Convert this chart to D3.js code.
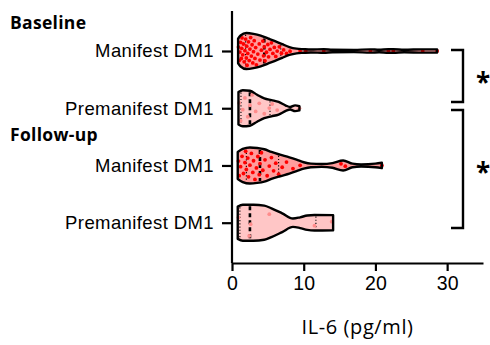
<!DOCTYPE html>
<html>
<head>
<meta charset="utf-8">
<script src="https://cdn.jsdelivr.net/npm/d3@7"></script>
<style>
  body { margin: 0; background: #fff; }
  svg { display: block; font-family: "Open Sans", "Noto Sans", sans-serif; }
</style>
</head>
<body>
<div id="chart"></div>
<script>
// groups from top to bottom
const groupKeys = ['mBase', 'pBase', 'mFollow', 'pFollow'];
const groupLabels = ['Manifest DM1', 'Premanifest DM1', 'Manifest DM1', 'Premanifest DM1'];
const sectionLabels = ['Baseline', 'Follow-up'];
const xTicks = [0, 10, 20, 30];

// IL-6 values (pg/ml)
const mBaseValues = [0.9, 1.0, 1.1, 1.2, 1.3, 1.35, 1.4, 1.5, 1.6, 1.7, 1.8, 1.9, 2.0, 2.05, 2.1, 2.2, 2.3, 2.4,
  2.5, 2.6, 2.7, 2.8, 2.9, 3.0, 3.1, 3.2, 3.3, 3.4, 3.6, 3.8, 3.9, 4.1, 4.3, 4.4, 4.5, 4.6, 4.8, 5.0,
  5.1, 5.3, 5.5, 5.7, 5.9, 6.1, 6.3, 6.6, 6.9, 7.2, 7.6, 8.1, 9.5, 10.3, 12.8, 19.3, 21.8, 22.5, 26.6, 28.6];
const pBaseValues = [1.0, 1.2, 1.5, 1.8, 2.2, 2.5, 2.8, 3.3, 3.8, 4.5, 5.2, 5.6, 6.3, 9.4];
const mFollowValues = [0.9, 1.0, 1.2, 1.4, 1.6, 1.8, 1.9, 2.0, 2.2, 2.3, 2.5, 2.7, 2.9, 3.0, 3.2, 3.4, 3.6,
  3.8, 3.9, 4.1, 4.3, 4.6, 4.9, 5.2, 5.5, 5.8, 6.1, 6.5, 7.0, 7.6, 8.5, 9.5, 15.2, 15.8, 20.9];
const pFollowValues = [0.9, 2.4, 2.6, 5.2, 11.5, 13.9];

// violin outlines: [value, relative half-width]
const mBaseShape = [[0.85, 0.68], [1.2, 0.86], [2, 1.0], [3, 0.95], [4, 0.85], [5, 0.7], [6, 0.55], [7, 0.38],
  [8, 0.22], [9, 0.13], [10, 0.1], [11, 0.08], [12.8, 0.1], [14, 0.07], [17, 0.06], [19.3, 0.09], [20.5, 0.07],
  [21.8, 0.1], [22.5, 0.1], [24, 0.07], [26.6, 0.09], [28.6, 0.09]];
const pBaseShape = [[0.9, 0.9], [1.5, 1.0], [2.5, 0.97], [3.5, 0.75], [4.5, 0.55], [5.5, 0.45], [6.5, 0.35],
  [7.5, 0.15], [8.1, 0.07], [8.8, 0.16], [9.4, 0.12]];
const mFollowShape = [[0.8, 0.75], [1.5, 0.92], [2.5, 1.0], [3.5, 0.97], [4.5, 0.9], [5.5, 0.75], [6.7, 0.6],
  [8, 0.45], [9, 0.32], [10, 0.18], [11, 0.1], [12.5, 0.08], [14, 0.13], [15.5, 0.28], [16.8, 0.1], [18, 0.06],
  [20, 0.1], [20.9, 0.15]];
const pFollowShape = [[0.8, 0.9], [1.5, 1.0], [3, 1.0], [4.5, 0.95], [5.5, 0.8], [7, 0.52], [8.5, 0.23],
  [9.5, 0.3], [10.5, 0.4], [11.5, 0.43], [14.1, 0.42]];

// [Q1, median, Q3]
const mBaseQuart = [1.9, 4.5, 6.8];
const pBaseQuart = [1.25, 2.5, 5.3];
const mFollowQuart = [2.0, 3.9, 6.5];
const pFollowQuart = [1.1, 2.5, 11.7];

const groups = [
  { key: 'mBase', values: mBaseValues, shape: mBaseShape, quart: mBaseQuart, manifest: true },
  { key: 'pBase', values: pBaseValues, shape: pBaseShape, quart: pBaseQuart, manifest: false },
  { key: 'mFollow', values: mFollowValues, shape: mFollowShape, quart: mFollowQuart, manifest: true },
  { key: 'pFollow', values: pFollowValues, shape: pFollowShape, quart: pFollowQuart, manifest: false }
];

const W = 490, H = 345;
const svg = d3.select('#chart').append('svg').attr('width', W).attr('height', H);

const x = d3.scaleLinear().domain([0, 35]).range([232, 483]);
const y = d3.scalePoint().domain(groupKeys).range([51, 222.7]);
const halfW = d3.scaleLinear().domain([0, 1]).range([0, 18]);

// violins
groups.forEach(g => {
  const cy = y(g.key);
  const widthAt = d3.scaleLinear().domain(g.shape.map(d => d[0])).range(g.shape.map(d => d[1])).clamp(true);
  const area = d3.area()
    .x(d => x(d[0]))
    .y0(d => cy - halfW(d[1]))
    .y1(d => cy + halfW(d[1]))
    .curve(d3.curveMonotoneX);
  const grp = svg.append('g');
  grp.append('path').attr('d', area(g.shape))
    .attr('fill', g.manifest ? '#ff9c9c' : '#ffc6c6')
    .attr('stroke', 'none');

  // quartile lines
  g.quart.forEach((q, i) => {
    const hw = halfW(widthAt(q)) - 1.5;
    grp.append('line')
      .attr('x1', x(q)).attr('x2', x(q))
      .attr('y1', cy - hw).attr('y2', cy + hw)
      .attr('stroke', '#000')
      .attr('stroke-width', i === 1 ? 2.6 : 1.1)
      .attr('stroke-dasharray', i === 1 ? '4,3' : '1.2,2');
  });

  // jittered dots
  grp.selectAll('circle').data(g.values).join('circle')
    .attr('cx', d => x(d))
    .attr('cy', (d, i) => {
      const f = ((i * 0.6180339 + 0.31) % 1) * 2 - 1;
      return cy + f * Math.max(0, halfW(widthAt(d)) - 2.5);
    })
    .attr('r', 1.9)
    .attr('fill', g.manifest ? '#ff0000' : '#ff8c8c');

  grp.append('path').attr('d', area(g.shape))
    .attr('fill', 'none')
    .attr('stroke', '#000')
    .attr('stroke-width', 2.4)
    .attr('stroke-linejoin', 'round');
});

// axes
const xAxis = svg.append('g').attr('transform', 'translate(0,263)')
  .call(d3.axisBottom(x).tickValues(xTicks).tickSize(8).tickPadding(5).tickSizeOuter(0));
xAxis.select('.domain').attr('stroke-width', 2.2);
xAxis.selectAll('.tick line').attr('stroke-width', 2.2);
xAxis.selectAll('.tick text').attr('font-size', 19.5).attr('fill', '#000');

const yAxis = svg.append('g').attr('transform', 'translate(232,0)')
  .call(d3.axisLeft(y).tickFormat((d, i) => groupLabels[i]).tickSize(10).tickPadding(8).tickSizeOuter(0));
yAxis.select('.domain').attr('d', `M0,11V263`).attr('stroke-width', 2.2);
yAxis.selectAll('.tick line').attr('stroke-width', 2.2);
yAxis.selectAll('.tick text').attr('font-size', 18.5).attr('letter-spacing', 0.4).attr('fill', '#000');

// section headings
svg.append('text').attr('x', 10).attr('y', 29).text(sectionLabels[0])
  .attr('font-size', 17.5).attr('font-weight', 'bold').attr('letter-spacing', 0.3);
svg.append('text').attr('x', 10).attr('y', 141).text(sectionLabels[1])
  .attr('font-size', 17.5).attr('font-weight', 'bold').attr('letter-spacing', 0.3);

// axis title
svg.append('text').attr('x', 357.5).attr('y', 334).attr('text-anchor', 'middle')
  .attr('font-size', 20).attr('letter-spacing', 0.6).text('IL-6 (pg/ml)');

// significance brackets
const brackets = [[50, 102, 80], [110, 228, 170]];
brackets.forEach(b => {
  svg.append('path').attr('d', `M451,${b[0]}H463V${b[1]}H451`)
    .attr('fill', 'none').attr('stroke', '#000').attr('stroke-width', 2.4);
  svg.append('text').attr('x', 483).attr('y', b[2] + 12).attr('text-anchor', 'middle')
    .attr('font-size', 26).attr('font-weight', 'bold').text('*');
});
</script>
</body>
</html>
